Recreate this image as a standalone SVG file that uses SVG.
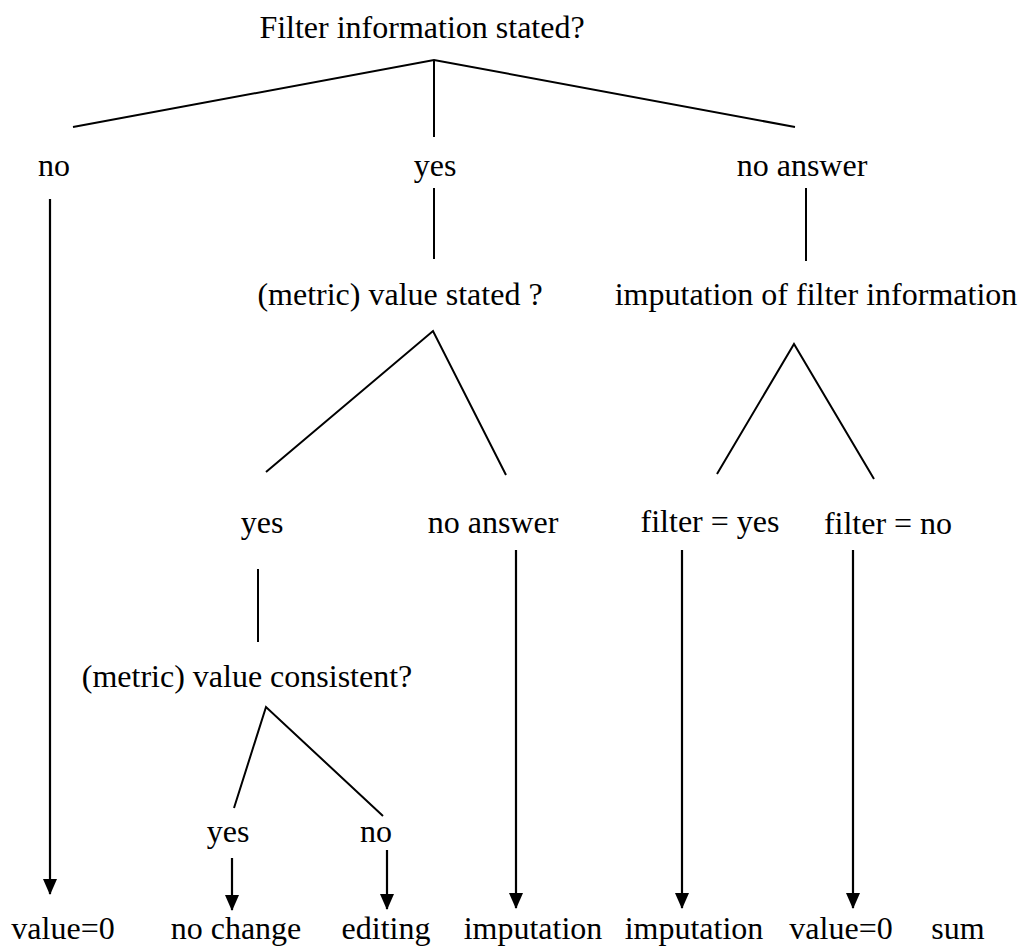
<svg xmlns="http://www.w3.org/2000/svg" width="1021" height="947" viewBox="0 0 1021 947">
<style>
text{font-family:"Liberation Serif","Times New Roman",serif;font-size:32px;fill:#000;text-anchor:middle}
.ln{stroke:#000;stroke-width:2;fill:none}
.ar{stroke:#000;stroke-width:2.2;fill:none;marker-end:url(#ah)}
</style>
<defs>
<marker id="ah" markerUnits="userSpaceOnUse" markerWidth="16" markerHeight="14" refX="15" refY="7" orient="auto" viewBox="0 0 16 14">
<path d="M0,0 L16,7 L0,14 Z" fill="#000"/>
</marker>
</defs>
<rect width="1021" height="947" fill="#fff"/>
<g id="connectors">
<path class="ln" d="M73,127 L434,60 L795,127 M434,60 L434,137"/>
<path class="ln" d="M434,188 L434,259"/>
<path class="ln" d="M806,188 L806,261"/>
<path class="ln" d="M266,472 L433,331 L506,475"/>
<path class="ln" d="M717,474 L794,344 L874,479"/>
<path class="ln" d="M258,569 L258,642"/>
<path class="ln" d="M234,808 L266,707 L383,816"/>
<line class="ar" x1="50" y1="199" x2="50" y2="894"/>
<line class="ar" x1="232" y1="858" x2="232" y2="910"/>
<line class="ar" x1="387" y1="850" x2="387" y2="909"/>
<line class="ar" x1="516" y1="550" x2="516" y2="908"/>
<line class="ar" x1="682" y1="550" x2="682" y2="908"/>
<line class="ar" x1="853" y1="550" x2="853" y2="908"/>
</g>
<g id="root"><text x="422" y="38">Filter information stated?</text></g>
<g id="n_no"><text x="54" y="176">no</text></g>
<g id="n_yes"><text x="435" y="176">yes</text></g>
<g id="n_noanswer"><text x="802" y="176">no answer</text></g>
<g id="n_valuestated"><text x="400" y="305">(metric) value stated ?</text></g>
<g id="n_impfilter"><text x="816" y="305">imputation of filter information</text></g>
<g id="n_yes2"><text x="262" y="533">yes</text></g>
<g id="n_noanswer2"><text x="493" y="533">no answer</text></g>
<g id="n_filteryes"><text x="710" y="532">filter = yes</text></g>
<g id="n_filterno"><text x="888" y="534">filter = no</text></g>
<g id="n_consistent"><text x="247" y="687">(metric) value consistent?</text></g>
<g id="n_yes3"><text x="228" y="842">yes</text></g>
<g id="n_no3"><text x="376" y="842">no</text></g>
<g id="r_value0a"><text x="63" y="939">value=0</text></g>
<g id="r_nochange"><text x="236" y="939">no change</text></g>
<g id="r_editing"><text x="386" y="939">editing</text></g>
<g id="r_imp1"><text x="533" y="939">imputation</text></g>
<g id="r_imp2"><text x="694" y="939">imputation</text></g>
<g id="r_value0b"><text x="841" y="939">value=0</text></g>
<g id="r_sum"><text x="958" y="939">sum</text></g>
</svg>
